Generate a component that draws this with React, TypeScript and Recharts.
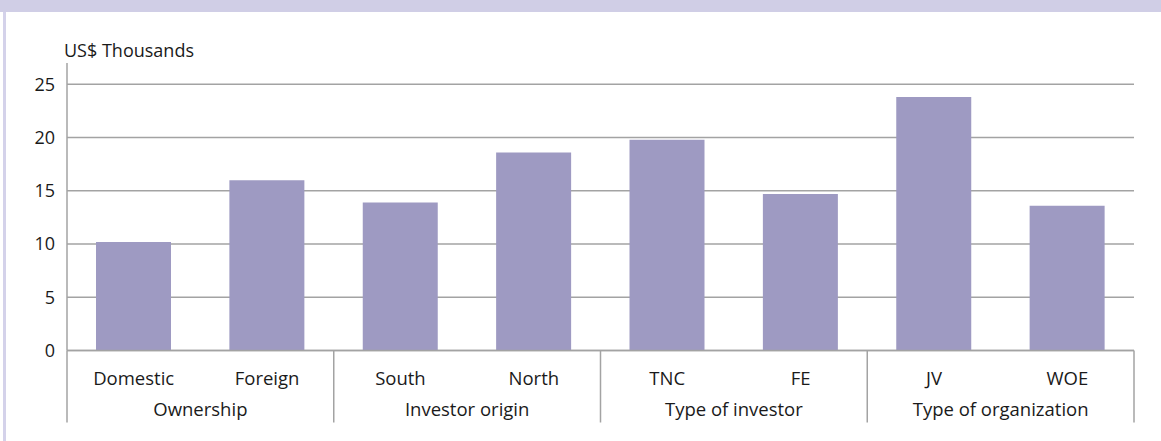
import React from "react";
import { BarChart, Bar, XAxis, YAxis, CartesianGrid } from "recharts";

const categories = ["Domestic", "Foreign", "South", "North", "TNC", "FE", "JV", "WOE"];
const groups = [
  "Ownership",
  "Ownership",
  "Investor origin",
  "Investor origin",
  "Type of investor",
  "Type of investor",
  "Type of organization",
  "Type of organization",
];
const wages = [10.2, 16.0, 13.9, 18.6, 19.8, 14.7, 23.8, 13.6];
const yTicks = [0, 5, 10, 15, 20, 25];

const data = categories.map((name, i) => ({ name, group: groups[i], value: wages[i] }));

const FONT = "'Open Sans', sans-serif";
const LINE = "#a3a3a3";
const INK = "#1a1a1a";

const CategoryTick = (props: any) => {
  const { x, y, payload, index } = props;
  const half = payload.offset ?? 0;
  const top = y - 8;
  const bottom = y + 64;
  return (
    <g>
      <text x={x} y={y + 26} textAnchor="middle" fontFamily={FONT} fontSize={18.5} fill={INK}>
        {payload.value}
      </text>
      {index % 2 === 0 && (
        <>
          <line x1={x - half} x2={x - half} y1={top} y2={bottom} stroke={LINE} strokeWidth={1.5} />
          <text x={x + half} y={y + 57} textAnchor="middle" fontFamily={FONT} fontSize={18.5} fill={INK}>
            {groups[index]}
          </text>
        </>
      )}
      {index === categories.length - 1 && (
        <line x1={x + half} x2={x + half} y1={top} y2={bottom} stroke={LINE} strokeWidth={1.5} />
      )}
    </g>
  );
};

export default function App() {
  return (
    <div
      style={{
        position: "fixed",
        left: 0,
        top: 0,
        width: 1161,
        height: 441,
        background: "#ffffff",
        overflow: "hidden",
      }}
    >
      <div style={{ position: "absolute", left: 0, top: 0, width: 1161, height: 12, background: "#d0cee6" }} />
      <div style={{ position: "absolute", left: 3, top: 12, width: 3, height: 429, background: "#d4d2ea" }} />
      <div
        style={{
          position: "absolute",
          left: 64,
          top: 39,
          fontFamily: FONT,
          fontSize: 18,
          color: INK,
          lineHeight: "22px",
        }}
      >
        US$ Thousands
      </div>
      <BarChart
        width={1161}
        height={441}
        data={data}
        margin={{ top: 63, right: 27, bottom: 60.5, left: 7 }}
        style={{ position: "absolute", left: 0, top: 0 }}
      >
        <CartesianGrid horizontal vertical={false} syncWithTicks stroke={LINE} strokeWidth={1.5} />
        <XAxis
          dataKey="name"
          height={30}
          interval={0}
          tickLine={false}
          axisLine={{ stroke: LINE, strokeWidth: 1.5 }}
          tick={<CategoryTick />}
        />
        <YAxis
          width={60}
          domain={[0, 27]}
          ticks={yTicks}
          tickLine={false}
          tickMargin={6}
          axisLine={{ stroke: LINE, strokeWidth: 1.5 }}
          tick={{ fontFamily: FONT, fontSize: 18, fill: INK }}
        />
        <Bar dataKey="value" fill="#9e9ac2" barSize={75} isAnimationActive={false} />
      </BarChart>
    </div>
  );
}
